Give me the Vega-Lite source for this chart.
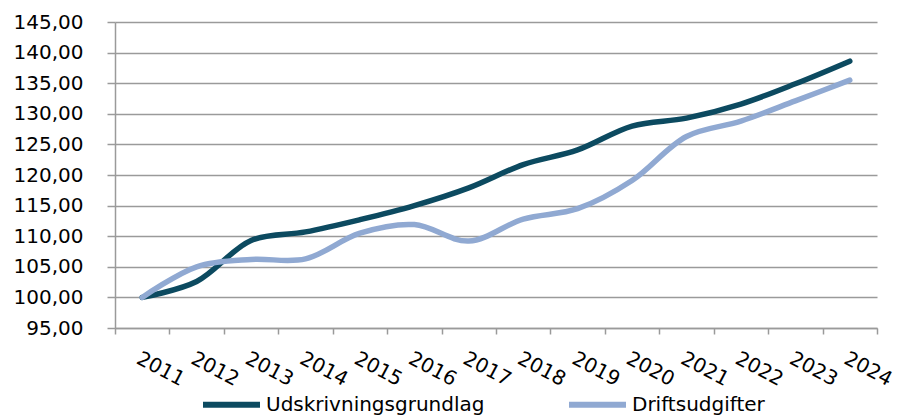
{
  "$schema": "https://vega.github.io/schema/vega-lite/v6.json",
  "autosize": "none",
  "width": 762,
  "height": 306,
  "padding": {"left": 115, "top": 22, "right": 21, "bottom": 90},
  "background": "white",
  "config": {
    "view": {"stroke": null},
    "font": "DejaVu Sans"
  },
  "data": {
    "values": [
      {"year": "2011", "serie": "Udskrivningsgrundlag", "value": 100.0},
      {"year": "2012", "serie": "Udskrivningsgrundlag", "value": 102.6},
      {"year": "2013", "serie": "Udskrivningsgrundlag", "value": 109.3},
      {"year": "2014", "serie": "Udskrivningsgrundlag", "value": 110.7},
      {"year": "2015", "serie": "Udskrivningsgrundlag", "value": 112.7},
      {"year": "2016", "serie": "Udskrivningsgrundlag", "value": 115.0},
      {"year": "2017", "serie": "Udskrivningsgrundlag", "value": 117.9},
      {"year": "2018", "serie": "Udskrivningsgrundlag", "value": 121.7},
      {"year": "2019", "serie": "Udskrivningsgrundlag", "value": 124.1},
      {"year": "2020", "serie": "Udskrivningsgrundlag", "value": 128.0},
      {"year": "2021", "serie": "Udskrivningsgrundlag", "value": 129.3},
      {"year": "2022", "serie": "Udskrivningsgrundlag", "value": 131.6},
      {"year": "2023", "serie": "Udskrivningsgrundlag", "value": 134.9},
      {"year": "2024", "serie": "Udskrivningsgrundlag", "value": 138.6},
      {"year": "2011", "serie": "Driftsudgifter", "value": 100.0},
      {"year": "2012", "serie": "Driftsudgifter", "value": 105.0},
      {"year": "2013", "serie": "Driftsudgifter", "value": 106.2},
      {"year": "2014", "serie": "Driftsudgifter", "value": 106.3},
      {"year": "2015", "serie": "Driftsudgifter", "value": 110.5},
      {"year": "2016", "serie": "Driftsudgifter", "value": 111.9},
      {"year": "2017", "serie": "Driftsudgifter", "value": 109.2},
      {"year": "2018", "serie": "Driftsudgifter", "value": 112.8},
      {"year": "2019", "serie": "Driftsudgifter", "value": 114.5},
      {"year": "2020", "serie": "Driftsudgifter", "value": 119.1},
      {"year": "2021", "serie": "Driftsudgifter", "value": 126.3},
      {"year": "2022", "serie": "Driftsudgifter", "value": 128.8},
      {"year": "2023", "serie": "Driftsudgifter", "value": 132.1},
      {"year": "2024", "serie": "Driftsudgifter", "value": 135.5}
    ]
  },
  "mark": {"type": "line", "interpolate": "catmull-rom", "strokeWidth": 5.5, "strokeCap": "round", "strokeJoin": "round"},
  "encoding": {
    "x": {
      "field": "year",
      "type": "ordinal",
      "scale": {"type": "band", "paddingInner": 0, "paddingOuter": 0},
      "axis": {
        "title": null,
        "grid": false,
        "tickBand": "extent",
        "domainColor": "#9a9a9a",
        "domainWidth": 1.5,
        "tickColor": "#9a9a9a",
        "tickWidth": 1.5,
        "tickSize": 6,
        "labelAngle": 28,
        "labelAlign": "left",
        "labelBaseline": "top",
        "labelFont": "DejaVu Sans",
        "labelFontSize": 20,
        "labelColor": "#000000",
        "labelPadding": 14
      }
    },
    "y": {
      "field": "value",
      "type": "quantitative",
      "scale": {"domain": [95, 145], "nice": false, "zero": false},
      "axis": {
        "title": null,
        "values": [95, 100, 105, 110, 115, 120, 125, 130, 135, 140, 145],
        "labelExpr": "replace(format(datum.value, '.2f'), '.', ',')",
        "grid": true,
        "gridColor": "#9a9a9a",
        "gridWidth": 1.5,
        "domainColor": "#9a9a9a",
        "domainWidth": 1.5,
        "tickColor": "#9a9a9a",
        "tickWidth": 1.5,
        "tickSize": 8,
        "labelPadding": 24,
        "labelFont": "DejaVu Sans",
        "labelFontSize": 20,
        "labelColor": "#000000"
      }
    },
    "color": {
      "field": "serie",
      "type": "nominal",
      "scale": {"domain": ["Udskrivningsgrundlag", "Driftsudgifter"], "range": ["#0c4a60", "#90a9d2"]},
      "legend": {
        "title": null,
        "orient": "none",
        "legendX": 85,
        "legendY": 351,
        "padding": 0,
        "direction": "horizontal",
        "symbolType": "stroke",
        "symbolSize": 3249,
        "symbolStrokeWidth": 6,
        "labelFont": "DejaVu Sans",
        "labelFontSize": 20,
        "labelColor": "#000000",
        "labelOffset": 3,
        "columnPadding": 72,
        "labelLimit": 400
      }
    }
  }
}
